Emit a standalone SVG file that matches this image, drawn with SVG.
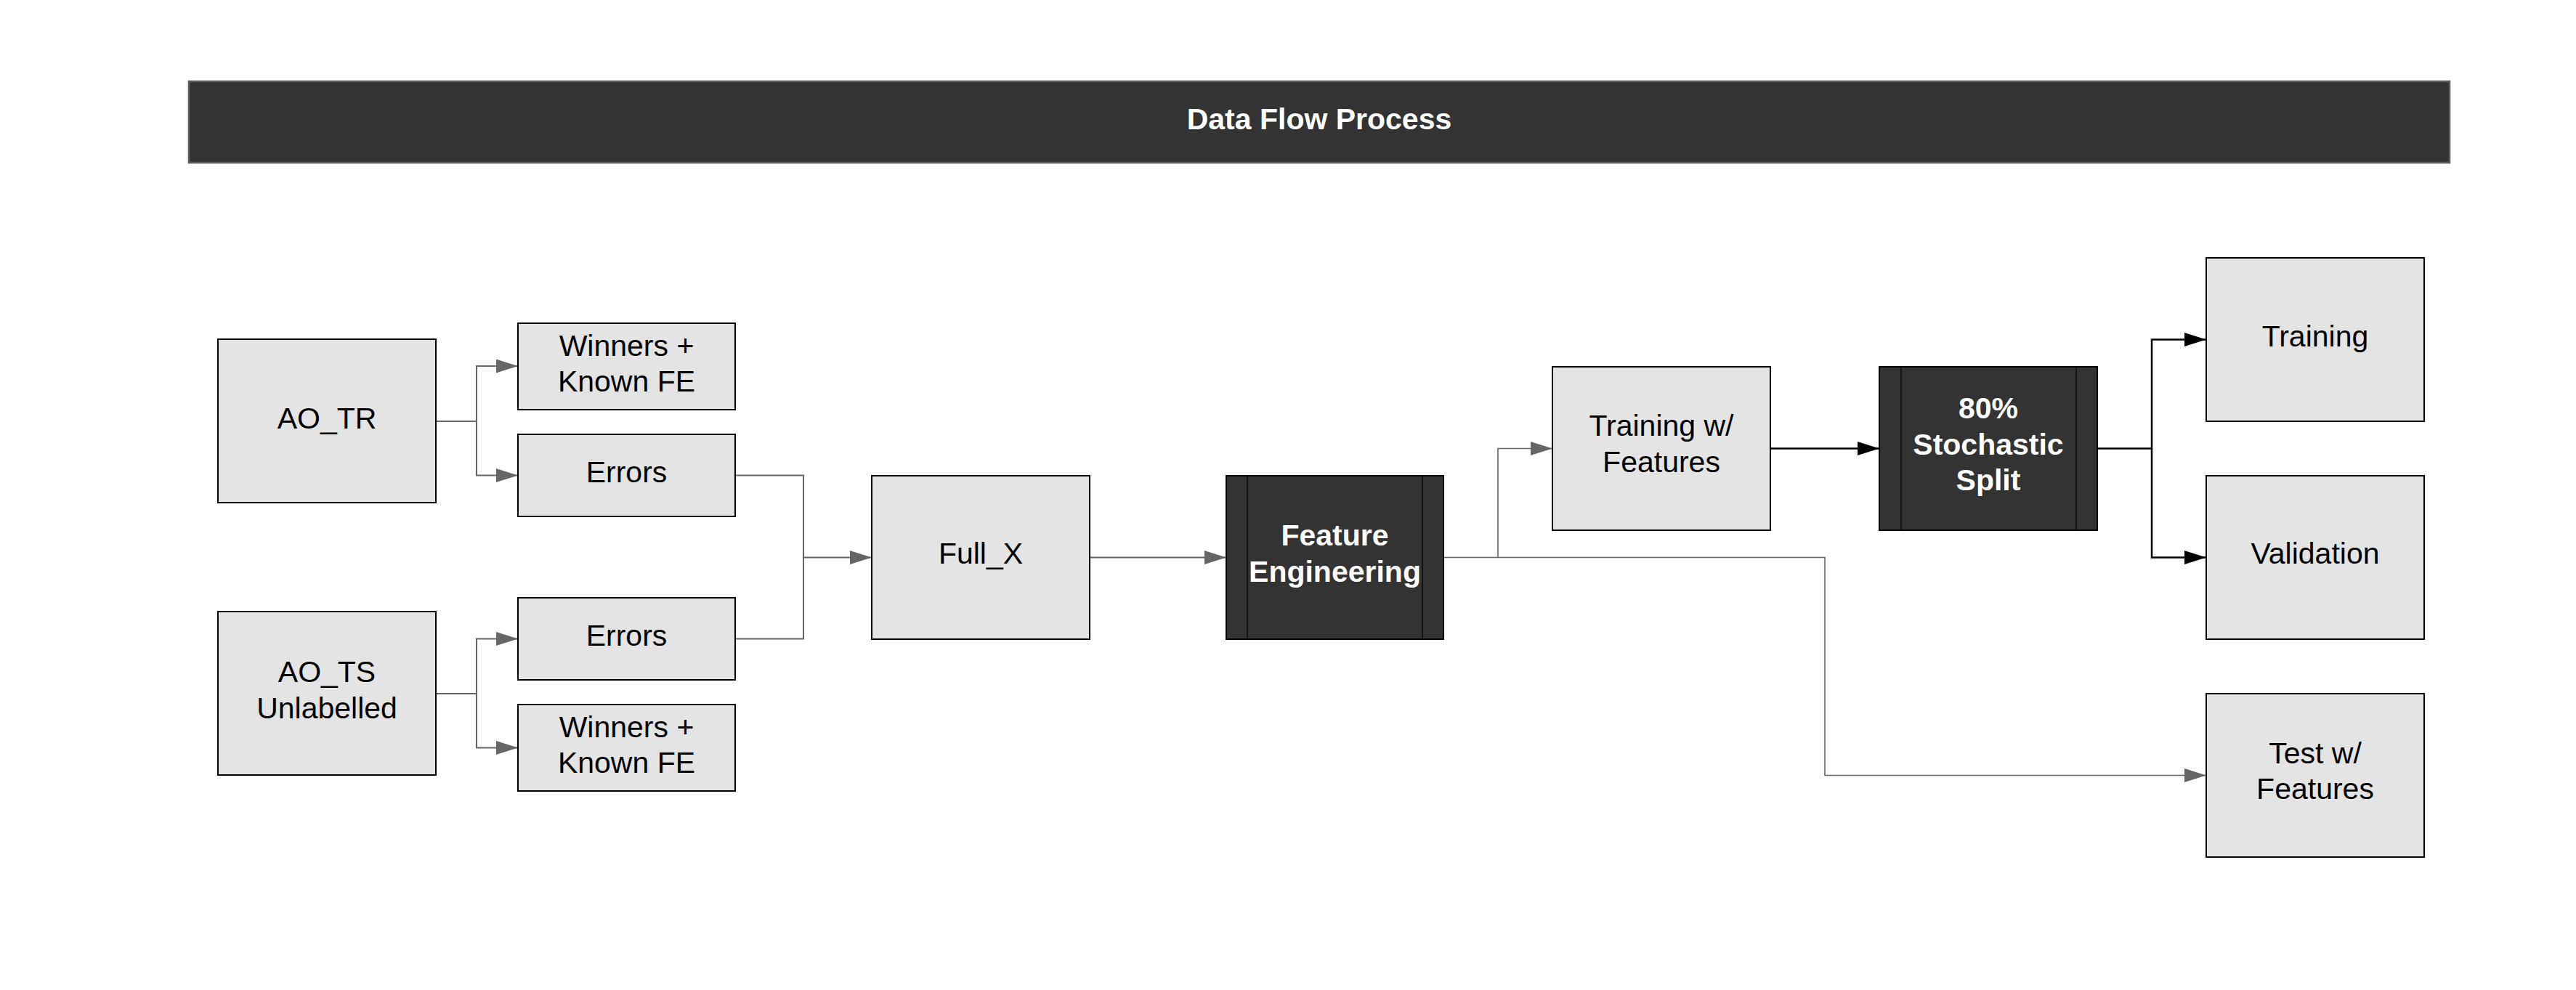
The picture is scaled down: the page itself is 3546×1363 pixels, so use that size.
<svg xmlns="http://www.w3.org/2000/svg" width="3546" height="1363" viewBox="0 0 3546 1363">
<defs>
<style>
.box{fill:#e4e4e4;stroke:#000;stroke-width:2}
.dark{fill:#333333;stroke:#000;stroke-width:2}
.inner{stroke:#000;stroke-width:1.2}
.lbl{font-family:"Liberation Sans",Arial,sans-serif;font-size:41px;fill:#000;text-anchor:middle}
.lblw{font-family:"Liberation Sans",Arial,sans-serif;font-size:41px;font-weight:bold;fill:#fff;text-anchor:middle}
.c{fill:none;stroke:#666;stroke-width:2}
.cb{fill:none;stroke:#000;stroke-width:2.5}
</style>
<marker id="ag" markerUnits="userSpaceOnUse" markerWidth="31" markerHeight="20" refX="30" refY="9.5" orient="auto"><path d="M0,0 L30,9.5 L0,19 z" fill="#666"/></marker>
<marker id="ab" markerUnits="userSpaceOnUse" markerWidth="31" markerHeight="20" refX="30" refY="9.5" orient="auto"><path d="M0,0 L30,9.5 L0,19 z" fill="#000"/></marker>
</defs>
<rect width="3546" height="1363" fill="#fff"/>
<g id="title">
<rect x="260" y="112" width="3112" height="112" fill="#333333" stroke="#5c5c5c" stroke-width="2.5"/>
<text class="lblw" x="1816" y="178">Data Flow Process</text>
</g>
<g id="connectors">
<path class="c" d="M600,580 H656 V504 H713" marker-end="url(#ag)"/>
<path class="c" d="M656,580 V654.5 H713" marker-end="url(#ag)"/>
<path class="c" d="M600,955 H656 V879.5 H713" marker-end="url(#ag)"/>
<path class="c" d="M656,955 V1029.5 H713" marker-end="url(#ag)"/>
<path class="c" d="M1012,654.5 H1106 V767.5 H1200" marker-end="url(#ag)"/>
<path class="c" d="M1012,879.5 H1106 V767.5"/>
<path class="c" d="M1500,767.5 H1688" marker-end="url(#ag)"/>
<path class="c" style="stroke-width:1.6" d="M1987,767.5 H2062 V617.5 H2137" marker-end="url(#ag)"/>
<path class="c" style="stroke-width:1.6" d="M2062,767.5 H2512 V1067.5 H3037" marker-end="url(#ag)"/>
<path class="cb" d="M2437,617.5 H2587" marker-end="url(#ab)"/>
<path class="cb" d="M2887,617.5 H2962 V467.5 H3037" marker-end="url(#ab)"/>
<path class="cb" d="M2962,617.5 V767.5 H3037" marker-end="url(#ab)"/>
</g>
<g id="ao_tr"><rect class="box" x="300" y="467" width="300" height="225"/><text class="lbl" x="450" y="590">AO_TR</text></g>
<g id="winners_tr"><rect class="box" x="713" y="445" width="299" height="119"/><text class="lbl" x="862.5" y="489.5">Winners +</text><text class="lbl" x="862.5" y="539">Known FE</text></g>
<g id="errors_tr"><rect class="box" x="713" y="598" width="299" height="113"/><text class="lbl" x="862.5" y="664">Errors</text></g>
<g id="ao_ts"><rect class="box" x="300" y="842" width="300" height="225"/><text class="lbl" x="450" y="939">AO_TS</text><text class="lbl" x="450" y="989">Unlabelled</text></g>
<g id="errors_ts"><rect class="box" x="713" y="823" width="299" height="113"/><text class="lbl" x="862.5" y="889">Errors</text></g>
<g id="winners_ts"><rect class="box" x="713" y="970" width="299" height="119"/><text class="lbl" x="862.5" y="1014.5">Winners +</text><text class="lbl" x="862.5" y="1064">Known FE</text></g>
<g id="full_x"><rect class="box" x="1200" y="655" width="300" height="225"/><text class="lbl" x="1350" y="776">Full_X</text></g>
<g id="feature_engineering"><rect class="dark" x="1688" y="655" width="299" height="225"/><line class="inner" x1="1717" y1="655" x2="1717" y2="880"/><line class="inner" x1="1958" y1="655" x2="1958" y2="880"/><text class="lblw" x="1837.5" y="751">Feature</text><text class="lblw" x="1837.5" y="800.5">Engineering</text></g>
<g id="training_features"><rect class="box" x="2137" y="505" width="300" height="225"/><text class="lbl" x="2287" y="600">Training w/</text><text class="lbl" x="2287" y="649.5">Features</text></g>
<g id="split"><rect class="dark" x="2587" y="505" width="300" height="225"/><line class="inner" x1="2617" y1="505" x2="2617" y2="730"/><line class="inner" x1="2858" y1="505" x2="2858" y2="730"/><text class="lblw" x="2737" y="575.5">80%</text><text class="lblw" x="2737" y="625.5">Stochastic</text><text class="lblw" x="2737" y="675">Split</text></g>
<g id="training"><rect class="box" x="3037" y="355" width="300" height="225"/><text class="lbl" x="3187" y="476.5">Training</text></g>
<g id="validation"><rect class="box" x="3037" y="655" width="300" height="225"/><text class="lbl" x="3187" y="776">Validation</text></g>
<g id="test_features"><rect class="box" x="3037" y="955" width="300" height="225"/><text class="lbl" x="3187" y="1050.5">Test w/</text><text class="lbl" x="3187" y="1100">Features</text></g>
</svg>
